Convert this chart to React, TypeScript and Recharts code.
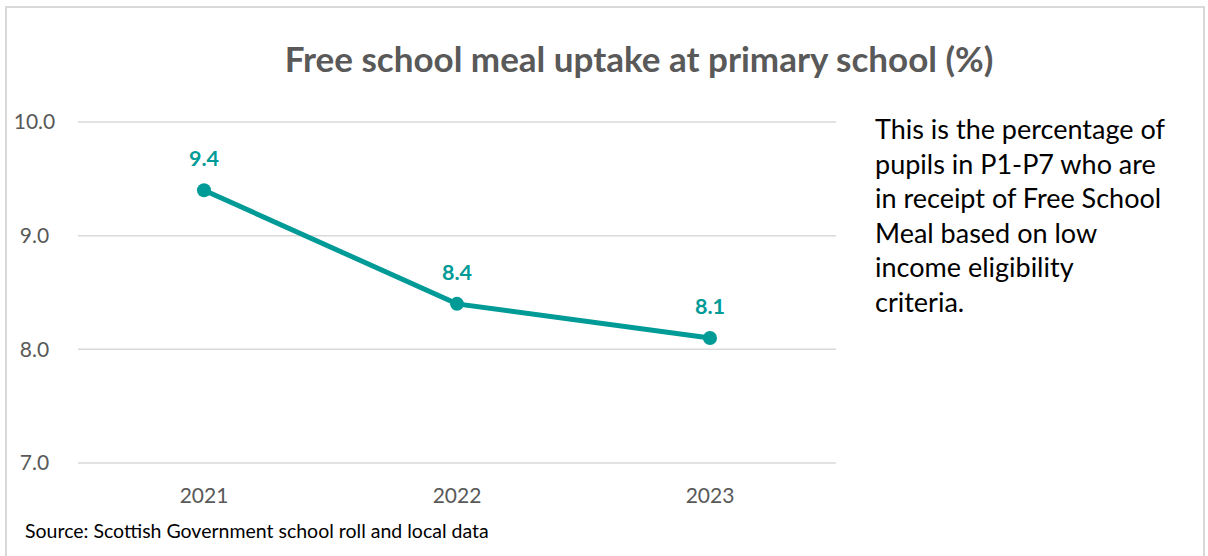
import React from "react";
import { LineChart, Line, XAxis, YAxis, CartesianGrid, LabelList } from "recharts";

const years = ["2021", "2022", "2023"];
const uptake = [9.4, 8.4, 8.1];
const yTicks = [7, 8, 9, 10];
const noteLines = [
  "This is the percentage of",
  "pupils in P1-P7 who are",
  "in receipt of Free School",
  "Meal based on low",
  "income eligibility",
  "criteria.",
];

const data = years.map((year, i) => ({ year, value: uptake[i] }));

const FONT = "Lato, 'Open Sans', sans-serif";
const TEAL = "#009a97";
const GREY = "#595959";

// Excel centres the value-axis labels in their column
function YTick(props: any) {
  const { y, payload } = props;
  return (
    <text x={34.5} y={y} dy="0.355em" textAnchor="middle" fontSize={21} fill={GREY} fontFamily={FONT}>
      {Number(payload.value).toFixed(1)}
    </text>
  );
}

export default function App() {
  return (
    <div style={{ position: "absolute", left: 0, top: 0, width: 1208, height: 556, background: "#fff", fontFamily: FONT }}>
      <div
        style={{
          position: "absolute", left: 5, top: 6, width: 1200, height: 560,
          border: "2px solid #d9d9d9", boxSizing: "border-box",
        }}
      />
      <div
        style={{
          position: "absolute", left: 0, width: 1278, top: 38, textAlign: "center",
          fontSize: 35, fontWeight: 700, color: GREY, lineHeight: "40px",
        }}
      >
        Free school meal uptake at primary school (%)
      </div>

      <div style={{ position: "absolute", left: 0, top: 0 }}>
        <LineChart width={1208} height={556} data={data} margin={{ top: 122, right: 372, bottom: 63, left: 18 }}>
          <CartesianGrid vertical={false} stroke="#d9d9d9" strokeWidth={1.5} />
          <XAxis
            dataKey="year"
            axisLine={false}
            tickLine={false}
            height={30}
            tickMargin={19}
            padding={{ left: 126, right: 126 }}
            tick={{ fontSize: 21, fill: GREY, fontFamily: FONT }}
          />
          <YAxis
            domain={[7, 10]}
            ticks={yTicks}
            width={60}
            axisLine={false}
            tickLine={false}
            tick={<YTick />}
          />
          <Line
            type="linear"
            dataKey="value"
            stroke={TEAL}
            strokeWidth={5}
            dot={{ r: 7, fill: TEAL, stroke: TEAL, strokeWidth: 0 }}
            isAnimationActive={false}
          >
            <LabelList
              dataKey="value"
              position="top"
              offset={24}
              formatter={(v: number) => v.toFixed(1)}
              style={{ fontSize: 21.5, fontWeight: 700, fill: TEAL, fontFamily: FONT }}
            />
          </Line>
        </LineChart>
      </div>

      <div style={{ position: "absolute", left: 875, top: 112, fontSize: 27, lineHeight: "34.5px", color: "#000" }}>
        {noteLines.map((line) => (
          <div key={line}>{line}</div>
        ))}
      </div>

      <div style={{ position: "absolute", left: 25, top: 519, fontSize: 19.5, color: "#000" }}>
        Source: Scottish Government school roll and local data
      </div>
    </div>
  );
}
